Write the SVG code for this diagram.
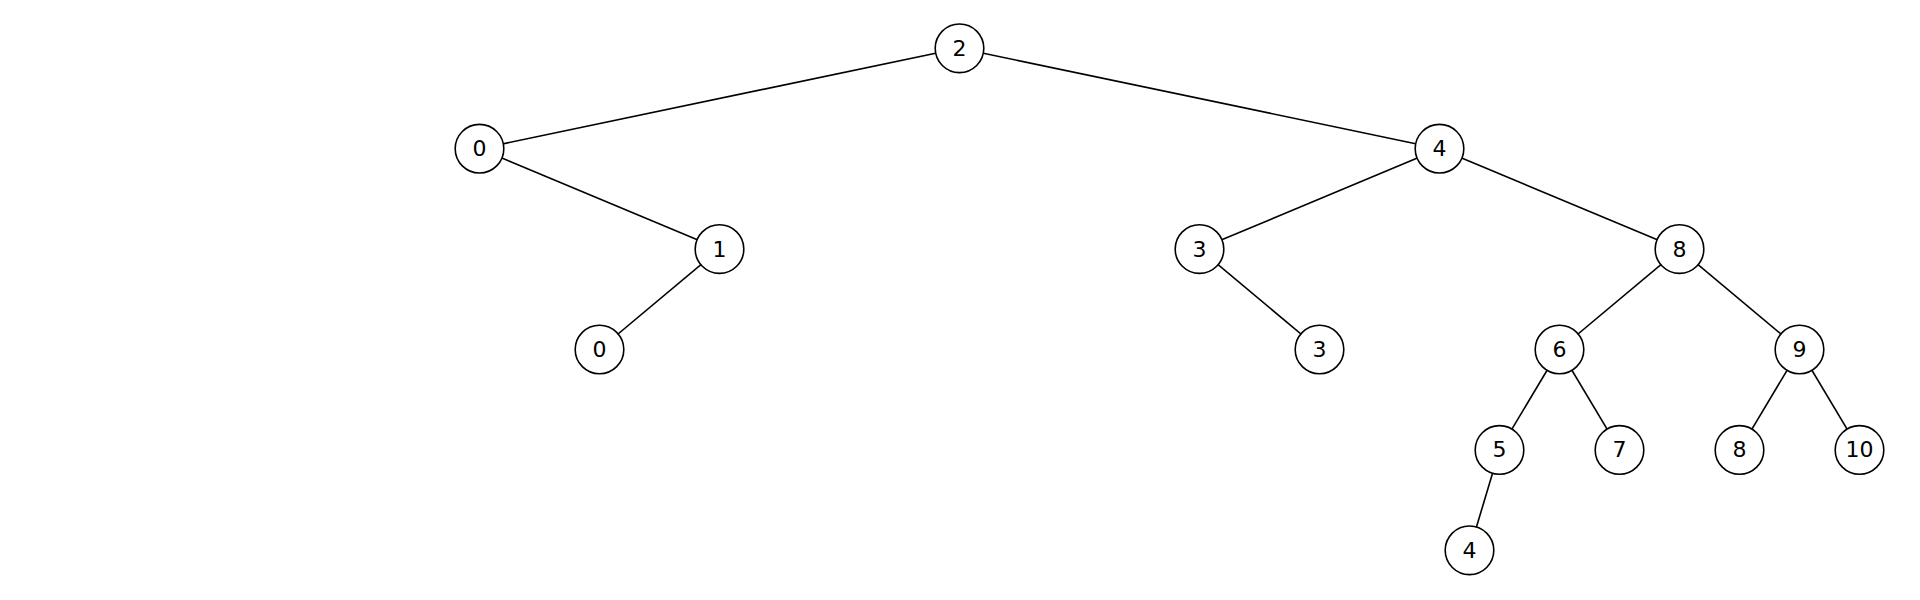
<svg xmlns="http://www.w3.org/2000/svg" width="1920" height="600" viewBox="0 0 1920 600">
<style>
.n circle{fill:#fff;stroke:#000;stroke-width:1.6}
.n text{font-family:"DejaVu Sans",sans-serif;font-size:22px;text-anchor:middle;dominant-baseline:central;fill:#000}
#edges line{stroke:#000;stroke-width:1.6}
</style>
<rect width="1920" height="600" fill="#fff"/>
<g id="edges">
<line x1="959.5" y1="48.3" x2="479.5" y2="148.7"/>
<line x1="959.5" y1="48.3" x2="1439.5" y2="148.7"/>
<line x1="479.5" y1="148.7" x2="719.5" y2="249.1"/>
<line x1="719.5" y1="249.1" x2="599.5" y2="349.5"/>
<line x1="1439.5" y1="148.7" x2="1199.5" y2="249.1"/>
<line x1="1439.5" y1="148.7" x2="1679.5" y2="249.1"/>
<line x1="1199.5" y1="249.1" x2="1319.5" y2="349.5"/>
<line x1="1679.5" y1="249.1" x2="1559.5" y2="349.5"/>
<line x1="1679.5" y1="249.1" x2="1799.5" y2="349.5"/>
<line x1="1559.5" y1="349.5" x2="1499.5" y2="449.9"/>
<line x1="1559.5" y1="349.5" x2="1619.5" y2="449.9"/>
<line x1="1799.5" y1="349.5" x2="1739.5" y2="449.9"/>
<line x1="1799.5" y1="349.5" x2="1859.5" y2="449.9"/>
<line x1="1499.5" y1="449.9" x2="1469.5" y2="550.3"/>
</g>
<g id="n2" class="n"><circle cx="959.5" cy="48.3" r="24.3"/><text x="959.5" y="48.3">2</text></g>
<g id="n0a" class="n"><circle cx="479.5" cy="148.7" r="24.3"/><text x="479.5" y="148.7">0</text></g>
<g id="n4a" class="n"><circle cx="1439.5" cy="148.7" r="24.3"/><text x="1439.5" y="148.7">4</text></g>
<g id="n1" class="n"><circle cx="719.5" cy="249.1" r="24.3"/><text x="719.5" y="249.1">1</text></g>
<g id="n3a" class="n"><circle cx="1199.5" cy="249.1" r="24.3"/><text x="1199.5" y="249.1">3</text></g>
<g id="n8a" class="n"><circle cx="1679.5" cy="249.1" r="24.3"/><text x="1679.5" y="249.1">8</text></g>
<g id="n0b" class="n"><circle cx="599.5" cy="349.5" r="24.3"/><text x="599.5" y="349.5">0</text></g>
<g id="n3b" class="n"><circle cx="1319.5" cy="349.5" r="24.3"/><text x="1319.5" y="349.5">3</text></g>
<g id="n6" class="n"><circle cx="1559.5" cy="349.5" r="24.3"/><text x="1559.5" y="349.5">6</text></g>
<g id="n9" class="n"><circle cx="1799.5" cy="349.5" r="24.3"/><text x="1799.5" y="349.5">9</text></g>
<g id="n5" class="n"><circle cx="1499.5" cy="449.9" r="24.3"/><text x="1499.5" y="449.9">5</text></g>
<g id="n7" class="n"><circle cx="1619.5" cy="449.9" r="24.3"/><text x="1619.5" y="449.9">7</text></g>
<g id="n8b" class="n"><circle cx="1739.5" cy="449.9" r="24.3"/><text x="1739.5" y="449.9">8</text></g>
<g id="n10" class="n"><circle cx="1859.5" cy="449.9" r="24.3"/><text x="1859.5" y="449.9">10</text></g>
<g id="n4b" class="n"><circle cx="1469.5" cy="550.3" r="24.3"/><text x="1469.5" y="550.3">4</text></g>
</svg>
